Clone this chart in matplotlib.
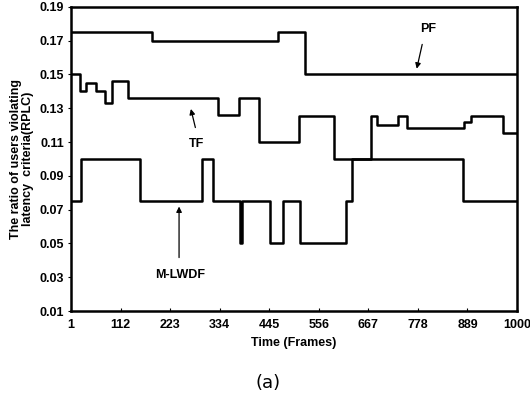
import matplotlib
matplotlib.use('Agg')
import matplotlib.pyplot as plt

# step change points (frame, value)
pf_frames = [1, 182, 465, 525, 1000]
pf_vals = [0.175, 0.17, 0.175, 0.15, 0.15]

tf_frames = [1, 21, 34, 57, 77, 92, 129, 330, 378, 422, 512, 591, 673, 686,
             733, 753, 881, 897, 969, 1000]
tf_vals = [0.15, 0.14, 0.145, 0.14, 0.133, 0.146, 0.136, 0.126, 0.136, 0.11,
           0.1255, 0.10, 0.1255, 0.12, 0.1255, 0.1185, 0.122, 0.1255, 0.1155, 0.1155]

mlwdf_frames = [1, 24, 156, 295, 318, 380, 384, 447, 475, 514, 617, 630, 878, 1000]
mlwdf_vals = [0.075, 0.10, 0.075, 0.10, 0.075, 0.05, 0.075, 0.05, 0.075, 0.05,
              0.075, 0.10, 0.075, 0.075]

xticks = [1, 112, 223, 334, 445, 556, 667, 778, 889, 1000]
yticks = [0.01, 0.03, 0.05, 0.07, 0.09, 0.11, 0.13, 0.15, 0.17, 0.19]

plt.rcParams['font.family'] = ['Liberation Sans', 'DejaVu Sans']

fig = plt.figure(figsize=(5.3, 4.05), dpi=100)
ax = fig.add_axes([0.134, 0.232, 0.8415, 0.751])

for fr, v in [(pf_frames, pf_vals), (tf_frames, tf_vals), (mlwdf_frames, mlwdf_vals)]:
    ax.step(fr, v, where='post', color='black', lw=1.8)

ax.set_xlim(1, 1000)
ax.set_ylim(0.01, 0.19)
ax.set_xticks(xticks)
ax.set_xticklabels([str(t) for t in xticks], fontweight='bold', fontsize=9)
ax.set_yticks(yticks)
ax.set_yticklabels(['%.2f' % t for t in yticks], fontweight='bold', fontsize=9)
ax.tick_params(axis='x', direction='in', length=2, pad=6)
ax.tick_params(axis='y', direction='out', length=2, pad=3)
for s in ax.spines.values():
    s.set_linewidth(1.8)

ax.set_xlabel('Time (Frames)', fontweight='bold', fontsize=9, labelpad=4)
ax.set_ylabel('The ratio of users violating\nlatency  criteria(RPLC)', fontweight='bold',
              fontsize=9, linespacing=1.05, labelpad=4)

arr = dict(arrowstyle='-|>', color='black', lw=0.9, mutation_scale=8)
ax.text(801, 0.177, 'PF', ha='center', va='center', fontweight='bold', fontsize=9)
ax.annotate('', xy=(774, 0.1518), xytext=(789, 0.1694), arrowprops=arr)
ax.text(283, 0.1088, 'TF', ha='center', va='center', fontweight='bold', fontsize=9)
ax.annotate('', xy=(268, 0.1312), xytext=(281, 0.117), arrowprops=arr)
ax.text(245, 0.0312, 'M-LWDF', ha='center', va='center', fontweight='bold', fontsize=9)
ax.annotate('', xy=(243, 0.0735), xytext=(243, 0.040), arrowprops=arr)

fig.text(268 / 530, 1 - 383 / 405, '(a)', ha='center', va='center', fontsize=13,
         family='DejaVu Sans')

fig.savefig('out.png', dpi=100)
